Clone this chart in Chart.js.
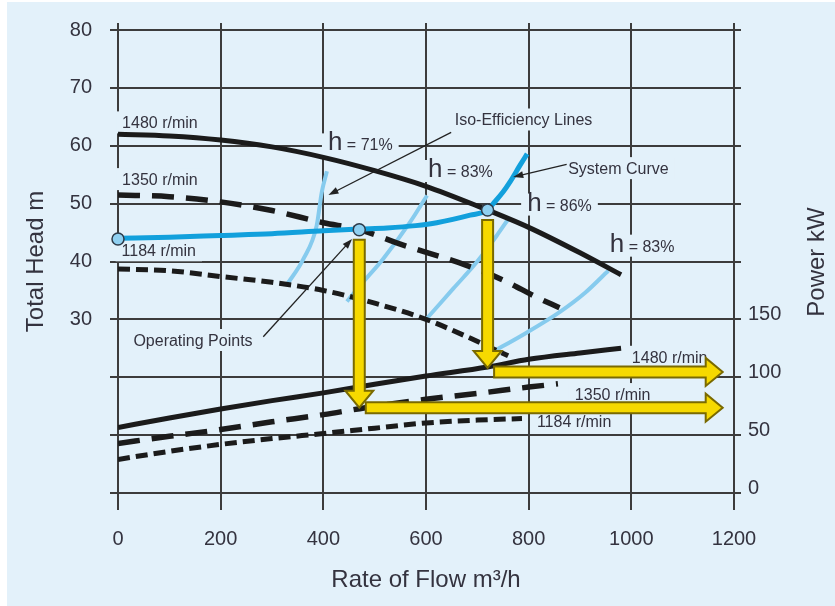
<!DOCTYPE html>
<html>
<head>
<meta charset="utf-8">
<script src="https://cdn.jsdelivr.net/npm/chart.js@4.4.1/dist/chart.umd.min.js"></script>
<style>
  html, body { margin: 0; padding: 0; background: #ffffff; }
  canvas { display: block; }
</style>
</head>
<body>
<canvas id="chart" width="835" height="606"></canvas>
<script>
// flow in m3/h, head in m, power in kW
const flowTicks = [0, 200, 400, 600, 800, 1000, 1200];
const headTickLabels = [30, 40, 50, 60, 70, 80];
const powerTickLabels = [0, 50, 100, 150];

// pump head curves
const head1480Flow = [0, 100, 200, 300, 400, 500, 600, 700, 800, 900, 980];
const head1480 = [62, 61.7, 61, 59.8, 58, 55.7, 53, 49.6, 45.9, 41.5, 37.7];
const head1350Flow = [0, 100, 200, 300, 400, 470, 550, 680, 750, 816, 860];
const head1350 = [51.5, 51.2, 50.3, 48.8, 46.7, 45.5, 43, 39.3, 36.8, 33.8, 32];
const head1184Flow = [0, 100, 200, 300, 400, 500, 600, 690, 760];
const head1184 = [38.7, 38.4, 37.4, 36.4, 35, 32.8, 30, 26.6, 23.7];

// system curve and operating points
const systemFlow = [0, 100, 200, 300, 400, 470, 524, 580, 621, 686, 720, 731, 750, 764, 783, 797];
const systemHead = [44, 44.2, 44.5, 44.8, 45.3, 45.6, 45.8, 46.2, 46.7, 48, 48.9, 50, 52, 53.8, 56.6, 58.6];
const opFlow = [0, 470, 720];
const opHead = [43.9, 45.5, 48.9];

// iso-efficiency lines
const iso71Flow = [329, 361, 387, 397, 407];
const iso71Head = [36, 40.4, 46.2, 52, 55.6];
const iso83aFlow = [446, 477, 516, 569, 602];
const iso83aHead = [33.1, 36.4, 40.4, 46.8, 51.4];
const iso86Flow = [602, 653, 699, 738, 760];
const iso86Head = [30.2, 35.3, 39.9, 44.5, 47.3];
const iso83bFlow = [726, 790, 861, 910, 955];
const iso83bHead = [24.2, 27.4, 31.3, 34.6, 38.4];

// power curves
const power1480Flow = [0, 100, 200, 300, 400, 500, 600, 720, 800, 900, 980];
const power1480 = [56.6, 64.8, 72.5, 79.8, 86.5, 94, 101, 108.8, 115.5, 121, 125];
const power1350Flow = [0, 100, 200, 300, 400, 500, 600, 700, 800, 857];
const power1350 = [42.8, 49, 54.8, 61.5, 67.7, 75, 81, 86, 91.5, 94.3];
const power1184Flow = [0, 100, 200, 300, 400, 500, 600, 700, 787];
const power1184 = [29, 36, 42, 47, 51.4, 56, 60.5, 63, 64.3];

// operating power read at each operating point (yellow arrows)
const arrowFlow = [470, 720];
const arrowPower = [73.7, 108];

const FONT = "'Liberation Sans', Arial, sans-serif";
const BG = '#e3f1fa';
const GRID = '#3c3c3c';
const TEXT = '#34333f';
const BLACK = '#1b1b1b';
const SYS_BLUE = '#12a0dc';
const ISO_BLUE = '#86cbee';

const pts = (xs, ys) => xs.map((x, i) => ({ x, y: ys[i] }));

const curve = (data, axis, color, width, dash, order) => ({
  data,
  yAxisID: axis,
  borderColor: color,
  borderWidth: width,
  borderDash: dash,
  borderCapStyle: 'butt',
  pointRadius: 0,
  fill: false,
  cubicInterpolationMode: 'monotone',
  order,
});

// text notes (x in flow, y as baseline in the given axis)
const notes = [
  { text: '1480 r/min', x: 8, y: 63.0, axis: 'y' },
  { text: '1350 r/min', x: 8, y: 53.2, axis: 'y' },
  { text: '1184 r/min', x: 7, y: 40.9, axis: 'y' },
  { eta: '71%', x: 409, y: 59.2, axis: 'y' },
  { text: 'Iso-Efficiency Lines', x: 656, y: 63.5, axis: 'y' },
  { eta: '83%', x: 604, y: 54.6, axis: 'y' },
  { text: 'System Curve', x: 877, y: 55.1, axis: 'y' },
  { eta: '86%', x: 797, y: 48.8, axis: 'y' },
  { eta: '83%', x: 958, y: 41.7, axis: 'y' },
  { text: 'Operating Points', x: 30, y: 25.4, axis: 'y' },
  { text: '1480 r/min', x: 1001, y: 112.5, axis: 'y2' },
  { text: '1350 r/min', x: 890, y: 80.3, axis: 'y2' },
  { text: '1184 r/min', x: 816, y: 57.4, axis: 'y2' },
];

const leaders = [
  { from: [649, 62.3], to: [410, 51.5] },
  { from: [874, 56.8], to: [770, 54.6] },
  { from: [283, 27], to: [456, 43.9] },
];

const backgroundPlugin = {
  id: 'panel',
  beforeDraw(chart) {
    const { ctx, width, height } = chart;
    ctx.save();
    ctx.fillStyle = '#ffffff';
    ctx.fillRect(0, 0, width, height);
    ctx.fillStyle = BG;
    ctx.fillRect(7, 2, width - 7, height - 2);
    ctx.restore();
  },
};

const notesPlugin = {
  id: 'notes',
  beforeDatasetsDraw(chart) {
    const { ctx, scales } = chart;
    ctx.save();
    notes.forEach((n) => {
      const px = scales.x.getPixelForValue(n.x);
      const py = scales[n.axis].getPixelForValue(n.y);
      let w;
      if (n.eta) {
        ctx.font = '26px ' + FONT;
        const hw = ctx.measureText('h').width;
        ctx.font = '16px ' + FONT;
        w = hw + ctx.measureText(' = ' + n.eta).width;
      } else {
        ctx.font = '16px ' + FONT;
        w = ctx.measureText(n.text).width;
      }
      ctx.fillStyle = BG;
      ctx.fillRect(px - 6, py - 17, w + 12, 22);
      ctx.fillStyle = TEXT;
      ctx.textBaseline = 'alphabetic';
      ctx.textAlign = 'left';
      if (n.eta) {
        ctx.font = '26px ' + FONT;
        ctx.fillText('h', px, py);
        const hw = ctx.measureText('h').width;
        ctx.font = '16px ' + FONT;
        ctx.fillText(' = ' + n.eta, px + hw, py);
      } else {
        ctx.fillText(n.text, px, py);
      }
    });
    ctx.restore();
  },
  afterDatasetsDraw(chart) {
    const { ctx, scales } = chart;
    const x = scales.x, y = scales.y, y2 = scales.y2;
    ctx.save();

    // leader lines with small arrow heads
    ctx.strokeStyle = '#222';
    ctx.fillStyle = '#222';
    ctx.lineWidth = 1.3;
    leaders.forEach((l) => {
      const x0 = x.getPixelForValue(l.from[0]), y0 = y.getPixelForValue(l.from[1]);
      const x1 = x.getPixelForValue(l.to[0]), y1 = y.getPixelForValue(l.to[1]);
      const a = Math.atan2(y1 - y0, x1 - x0);
      ctx.beginPath();
      ctx.moveTo(x0, y0);
      ctx.lineTo(x1 - 6 * Math.cos(a), y1 - 6 * Math.sin(a));
      ctx.stroke();
      ctx.beginPath();
      ctx.moveTo(x1, y1);
      ctx.lineTo(x1 - 10 * Math.cos(a) + 3.5 * Math.sin(a), y1 - 10 * Math.sin(a) - 3.5 * Math.cos(a));
      ctx.lineTo(x1 - 10 * Math.cos(a) - 3.5 * Math.sin(a), y1 - 10 * Math.sin(a) + 3.5 * Math.cos(a));
      ctx.closePath();
      ctx.fill();
    });

    // yellow arrows: down from operating point to power, then right to the power axis
    const body = 5.5, head = 14, headLen = 17;
    ctx.fillStyle = '#f6d900';
    ctx.strokeStyle = '#7a6a00';
    ctx.lineWidth = 2;
    ctx.lineJoin = 'miter';
    arrowFlow.forEach((f, i) => {
      const idx = opFlow.indexOf(f);
      const cx = x.getPixelForValue(f);
      const top = y.getPixelForValue(opHead[idx]) + 10;
      const tip = y2.getPixelForValue(arrowPower[i]);
      ctx.beginPath();
      ctx.moveTo(cx - body, top);
      ctx.lineTo(cx + body, top);
      ctx.lineTo(cx + body, tip - headLen);
      ctx.lineTo(cx + head, tip - headLen);
      ctx.lineTo(cx, tip);
      ctx.lineTo(cx - head, tip - headLen);
      ctx.lineTo(cx - body, tip - headLen);
      ctx.closePath();
      ctx.fill();
      ctx.stroke();

      const left = cx + body + 1;
      const end = x.getPixelForValue(1178);
      const cy = tip + (i === 1 ? 4 : 0);
      ctx.beginPath();
      ctx.moveTo(left, cy - body);
      ctx.lineTo(end - headLen, cy - body);
      ctx.lineTo(end - headLen, cy - head);
      ctx.lineTo(end, cy);
      ctx.lineTo(end - headLen, cy + head);
      ctx.lineTo(end - headLen, cy + body);
      ctx.lineTo(left, cy + body);
      ctx.closePath();
      ctx.fill();
      ctx.stroke();
    });

    // right axis title, reading bottom to top
    ctx.translate(817, 262);
    ctx.rotate(-Math.PI / 2);
    ctx.font = '24px ' + FONT;
    ctx.fillStyle = TEXT;
    ctx.textAlign = 'center';
    ctx.textBaseline = 'middle';
    ctx.fillText('Power kW', 0, 0);
    ctx.restore();
  },
};

const tickFont = { family: FONT, size: 20 };
const setTicks = (scale) => { scale.ticks = flowTicks.map((v) => ({ value: v })); };

new Chart(document.getElementById('chart'), {
  type: 'line',
  data: {
    datasets: [
      {
        data: pts(opFlow, opHead),
        yAxisID: 'y',
        showLine: false,
        clip: false,
        pointRadius: 6,
        pointBackgroundColor: '#8fd0f1',
        pointBorderColor: '#2d3a48',
        pointBorderWidth: 1.5,
        order: 0,
      },
      curve(pts(systemFlow, systemHead), 'y', SYS_BLUE, 5, [], 1),
      curve(pts(head1480Flow, head1480), 'y', BLACK, 5, [], 2),
      curve(pts(head1350Flow, head1350), 'y', BLACK, 5.5, [22, 12], 2),
      curve(pts(head1184Flow, head1184), 'y', BLACK, 5, [12, 6], 2),
      curve(pts(iso71Flow, iso71Head), 'y', ISO_BLUE, 4, [], 3),
      curve(pts(iso83aFlow, iso83aHead), 'y', ISO_BLUE, 4, [], 3),
      curve(pts(iso86Flow, iso86Head), 'y', ISO_BLUE, 4, [], 3),
      curve(pts(iso83bFlow, iso83bHead), 'y', ISO_BLUE, 4, [], 3),
      curve(pts(power1480Flow, power1480), 'y2', BLACK, 5, [], 2),
      curve(pts(power1350Flow, power1350), 'y2', BLACK, 5.5, [22, 12], 2),
      curve(pts(power1184Flow, power1184), 'y2', BLACK, 5, [12, 6], 2),
    ],
  },
  options: {
    responsive: false,
    animation: false,
    events: [],
    layout: { padding: 0 },
    plugins: { legend: { display: false }, tooltip: { enabled: false } },
    scales: {
      x: {
        type: 'linear',
        position: 'bottom',
        min: 0,
        max: 1200,
        afterBuildTicks: setTicks,
        afterFit: (s) => { s.height = 113; },
        ticks: { font: tickFont, color: TEXT, padding: 17, maxRotation: 0, autoSkip: false, callback: (v) => String(v) },
        grid: { color: GRID, lineWidth: 2, tickLength: 17 },
        border: { color: GRID, width: 2 },
        title: { display: true, text: 'Rate of Flow m³/h', color: TEXT, font: { family: FONT, size: 24 }, padding: { top: 0, bottom: 11 } },
      },
      xTop: {
        type: 'linear',
        position: 'top',
        min: 0,
        max: 1200,
        afterBuildTicks: setTicks,
        afterFit: (s) => { s.height = 25; },
        ticks: { display: false },
        grid: { drawOnChartArea: false, color: GRID, lineWidth: 2, tickLength: 7 },
        border: { display: false },
      },
      y: {
        position: 'left',
        min: 0,
        max: 80,
        afterFit: (s) => { s.width = 118; },
        ticks: { stepSize: 10, font: tickFont, color: TEXT, padding: 18, callback: (v) => (headTickLabels.includes(v) ? String(v) : '') },
        grid: { color: GRID, lineWidth: 2, tickLength: 8 },
        border: { color: GRID, width: 2 },
        title: { display: true, text: 'Total Head m', color: TEXT, font: { family: FONT, size: 24 }, padding: { top: 22, bottom: 0 } },
      },
      y2: {
        position: 'right',
        min: 0,
        max: 400,
        afterFit: (s) => { s.width = 101; },
        ticks: { stepSize: 50, font: tickFont, color: TEXT, padding: 7, labelOffset: -5, callback: (v) => (powerTickLabels.includes(v) ? String(v) : '') },
        grid: { drawOnChartArea: false, color: GRID, lineWidth: 2, tickLength: 7 },
        border: { color: GRID, width: 2 },
      },
    },
  },
  plugins: [backgroundPlugin, notesPlugin],
});
</script>
</body>
</html>
